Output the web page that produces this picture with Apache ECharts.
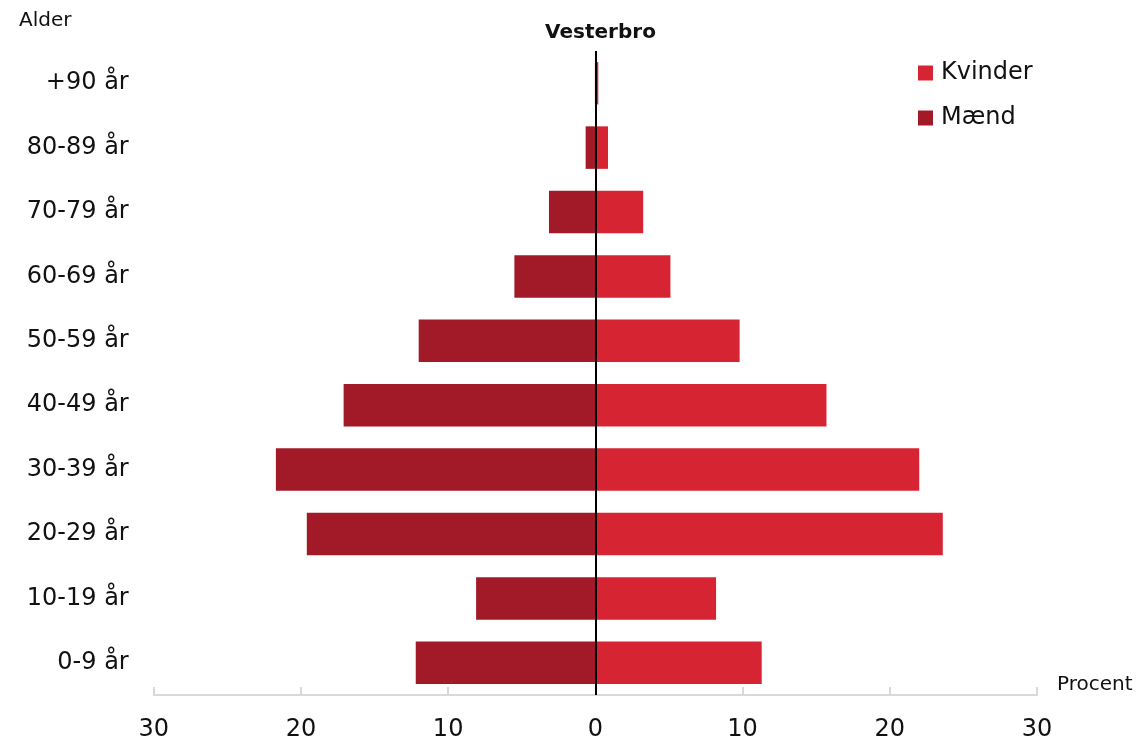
<!DOCTYPE html>
<html>
<head>
<meta charset="utf-8">
<script src="https://cdn.jsdelivr.net/npm/echarts@6/dist/echarts.min.js"></script>
<style>html,body{margin:0;padding:0;background:#fff;}#c{width:1143px;height:743px;}</style>
</head>
<body>
<div id="c"></div>
<script>
const categories = ['0-9 år','10-19 år','20-29 år','30-39 år','40-49 år','50-59 år','60-69 år','70-79 år','80-89 år','+90 år'];
const kvinder = [11.3, 8.2, 23.6, 22.0, 15.7, 9.8, 5.1, 3.25, 0.86, 0.2];
const maend = [12.2, 8.1, 19.6, 21.7, 17.1, 12.0, 5.5, 3.15, 0.66, 0.03];
const xTicks = { min: -30, max: 30, interval: 10 };

const FONT = 'DejaVu Sans';
const chart = echarts.init(document.getElementById('c'), null, { renderer: 'canvas' });
chart.setOption({
  animation: false,
  backgroundColor: '#ffffff',
  textStyle: { fontFamily: FONT },
  title: {
    text: 'Vesterbro',
    left: 595.5, top: 18,
    textAlign: 'center',
    textStyle: { fontFamily: FONT, fontSize: 20, fontWeight: 'bold', color: '#111' }
  },
  graphic: [
    {
      type: 'text',
      left: 19, top: 11,
      style: { text: 'Alder', fontFamily: FONT, fontSize: 20, fill: '#111' }
    }
  ],
  legend: {
    orient: 'vertical',
    left: 913, top: 56,
    itemWidth: 15, itemHeight: 15, itemGap: 21,
    icon: 'rect',
    data: ['Kvinder', 'Mænd'],
    textStyle: { fontFamily: FONT, fontSize: 24, color: '#111', padding: [0, 0, 0, 3] }
  },
  grid: { left: 153.7, right: 106, top: 51, bottom: 48, containLabel: false },
  xAxis: {
    type: 'value',
    min: xTicks.min, max: xTicks.max, interval: xTicks.interval,
    name: 'Procent',
    nameLocation: 'end',
    nameGap: 20,
    nameTextStyle: { fontFamily: FONT, fontSize: 20, color: '#111', verticalAlign: 'bottom' },
    axisLine: { show: true, lineStyle: { color: '#d9d9d9', width: 2 } },
    axisTick: { show: true, inside: true, length: 8, lineStyle: { color: '#d9d9d9', width: 2 } },
    splitLine: { show: false },
    axisLabel: {
      fontFamily: FONT, fontSize: 24, color: '#111', margin: 23,
      formatter: v => String(Math.abs(v))
    }
  },
  yAxis: {
    type: 'category',
    data: categories,
    axisLine: { show: false },
    axisTick: { show: false },
    splitLine: { show: false },
    axisLabel: { fontFamily: FONT, fontSize: 24, color: '#111', margin: 25, padding: [8, 0, 0, 0] }
  },
  series: [
    {
      name: 'Kvinder',
      type: 'bar',
      data: kvinder,
      barWidth: '66%',
      barGap: '-100%',
      itemStyle: { color: '#d72433' }
    },
    {
      name: 'Mænd',
      type: 'bar',
      data: maend.map(v => -v),
      barWidth: '66%',
      barGap: '-100%',
      itemStyle: { color: '#a21a28' },
      markLine: {
        silent: true,
        symbol: ['none', 'none'],
        label: { show: false },
        lineStyle: { color: '#000', width: 2, type: 'solid' },
        data: [{ xAxis: 0 }]
      }
    }
  ]
});
</script>
</body>
</html>
